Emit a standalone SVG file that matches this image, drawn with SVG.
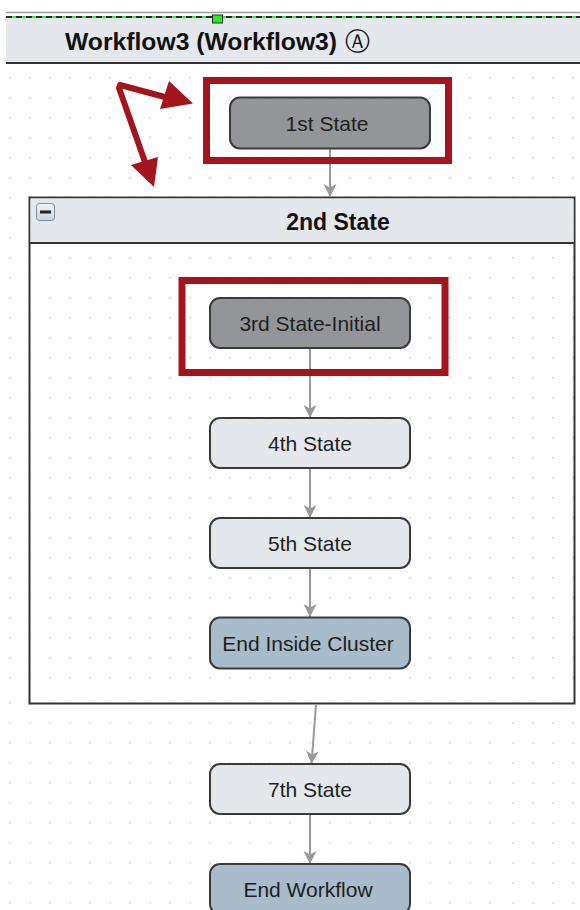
<svg xmlns="http://www.w3.org/2000/svg" width="580" height="910" viewBox="0 0 580 910">
<style>
.node rect{stroke:#3a3a3a;stroke-width:2}
.gray rect{fill:#939598}
.light rect{fill:#e4e8ec}
.end rect{fill:#a9bccc}
.lbl{font-family:"Liberation Sans",Arial,sans-serif;font-size:21px;fill:#1e1e1e;text-anchor:middle}
.title{font-family:"Liberation Sans",Arial,sans-serif;font-weight:bold;fill:#111}
.conn{stroke:#9a9a9a;stroke-width:2;fill:none;marker-end:url(#ah)}
.red{fill:#a3141d}
.redbox{fill:none;stroke:#a3141d;stroke-width:7}
</style>
<defs>
<marker id="ah" markerUnits="userSpaceOnUse" markerWidth="14" markerHeight="14" refX="13" refY="6.5" orient="auto">
<path d="M0,0 L13,6.5 L0,13 L3.5,6.5 z" fill="#9a9a9a"/>
</marker>
<pattern id="p1" patternUnits="userSpaceOnUse" x="0" y="7.7" width="20" height="20"><rect x="9.3" y="9.3" width="1.5" height="1.5" fill="#c6c6c6"/></pattern>
<pattern id="p2" patternUnits="userSpaceOnUse" x="3" y="7.7" width="20" height="20"><rect x="9.3" y="9.3" width="1.5" height="1.5" fill="#c6c6c6"/></pattern>
<pattern id="p3" patternUnits="userSpaceOnUse" x="0" y="13.3" width="20" height="20"><rect x="9.3" y="9.3" width="1.5" height="1.5" fill="#c6c6c6"/></pattern>
<pattern id="p4" patternUnits="userSpaceOnUse" x="3" y="13.3" width="20" height="20"><rect x="9.3" y="9.3" width="1.5" height="1.5" fill="#c6c6c6"/></pattern>
<linearGradient id="ig" x1="0" y1="0" x2="0" y2="1"><stop offset="0" stop-color="#f4f6f8"/><stop offset="1" stop-color="#c9d2da"/></linearGradient>
</defs>
<rect width="580" height="910" fill="#fff"/>
<rect x="0" y="0" width="500" height="690" fill="url(#p1)"/>
<rect x="500" y="0" width="80" height="690" fill="url(#p2)"/>
<rect x="0" y="690" width="500" height="220" fill="url(#p3)"/>
<rect x="500" y="690" width="80" height="220" fill="url(#p4)"/>

<g id="workflow-header">
<line x1="6" y1="12.5" x2="580" y2="12.5" stroke="#9c9c9c" stroke-width="1.5"/>
<rect x="6" y="16" width="574" height="46.5" fill="#e4e8ec"/>
<line x1="6" y1="17" x2="580" y2="17" stroke="#33ee33" stroke-width="2"/>
<line x1="6" y1="17" x2="580" y2="17" stroke="#2a2a2a" stroke-width="2" stroke-dasharray="6,4"/>
<line x1="6" y1="63" x2="580" y2="63" stroke="#333" stroke-width="2"/>
<rect x="212.5" y="15" width="10" height="8" fill="#22ee22" stroke="#2a2a2a" stroke-width="1"/>
<text class="title" x="65" y="50" font-size="24.7">Workflow3 (Workflow3) <tspan x="345" font-family="DejaVu Sans,sans-serif" font-weight="normal" font-size="25">Ⓐ</tspan></text>
</g>

<g id="cluster-2nd-state">
<rect x="29.5" y="197.5" width="545" height="506" fill="none" stroke="#333" stroke-width="2"/>
<rect x="30.5" y="198.5" width="543" height="44" fill="#e4e8ec"/>
<line x1="29.5" y1="243" x2="574.5" y2="243" stroke="#333" stroke-width="2"/>
<rect x="36.5" y="203.5" width="18" height="17" rx="3" fill="url(#ig)" stroke="#7d8c9a" stroke-width="1"/>
<rect x="40" y="210.5" width="11" height="3" fill="#222"/>
<text class="title" x="338" y="230" font-size="23" text-anchor="middle">2nd State</text>
</g>

<g id="connectors">
<line class="conn" x1="330" y1="148" x2="330" y2="197"/>
<line class="conn" x1="310" y1="348" x2="310" y2="418"/>
<line class="conn" x1="310" y1="468" x2="310" y2="518"/>
<line class="conn" x1="310" y1="568" x2="310" y2="617"/>
<line class="conn" x1="316" y1="704" x2="311.5" y2="764"/>
<line class="conn" x1="310" y1="814" x2="310" y2="864"/>
</g>

<g id="n1" class="node gray"><rect x="230" y="97.5" width="200" height="51" rx="10"/><text class="lbl" x="327" y="130.5">1st State</text></g>
<g id="n3" class="node gray"><rect x="210" y="298" width="200" height="50" rx="10"/><text class="lbl" x="310" y="330.5">3rd State-Initial</text></g>
<g id="n4" class="node light"><rect x="210" y="418" width="200" height="50" rx="10"/><text class="lbl" x="310" y="450.5">4th State</text></g>
<g id="n5" class="node light"><rect x="210" y="518" width="200" height="50" rx="10"/><text class="lbl" x="310" y="550.5">5th State</text></g>
<g id="n6" class="node end"><rect x="210" y="617.5" width="200" height="51" rx="10"/><text class="lbl" x="308" y="650.5">End Inside Cluster</text></g>
<g id="n7" class="node light"><rect x="210" y="764" width="200" height="50" rx="10"/><text class="lbl" x="310" y="796.5">7th State</text></g>
<g id="n8" class="node end"><rect x="210" y="864" width="200" height="50" rx="10"/><text class="lbl" x="308" y="896.5">End Workflow</text></g>

<g id="annotations">
<rect class="redbox" x="206.5" y="80.5" width="242" height="80"/>
<rect class="redbox" x="182" y="280.5" width="263" height="92"/>
<line x1="120" y1="85" x2="176" y2="100" stroke="#a3141d" stroke-width="6" stroke-linecap="round"/>
<polygon class="red" points="169,81 193,103.5 160,109"/>
<line x1="119" y1="88" x2="145" y2="162" stroke="#a3141d" stroke-width="6" stroke-linecap="round"/>
<polygon class="red" points="131,165 154,187 158,157"/>
</g>
</svg>
